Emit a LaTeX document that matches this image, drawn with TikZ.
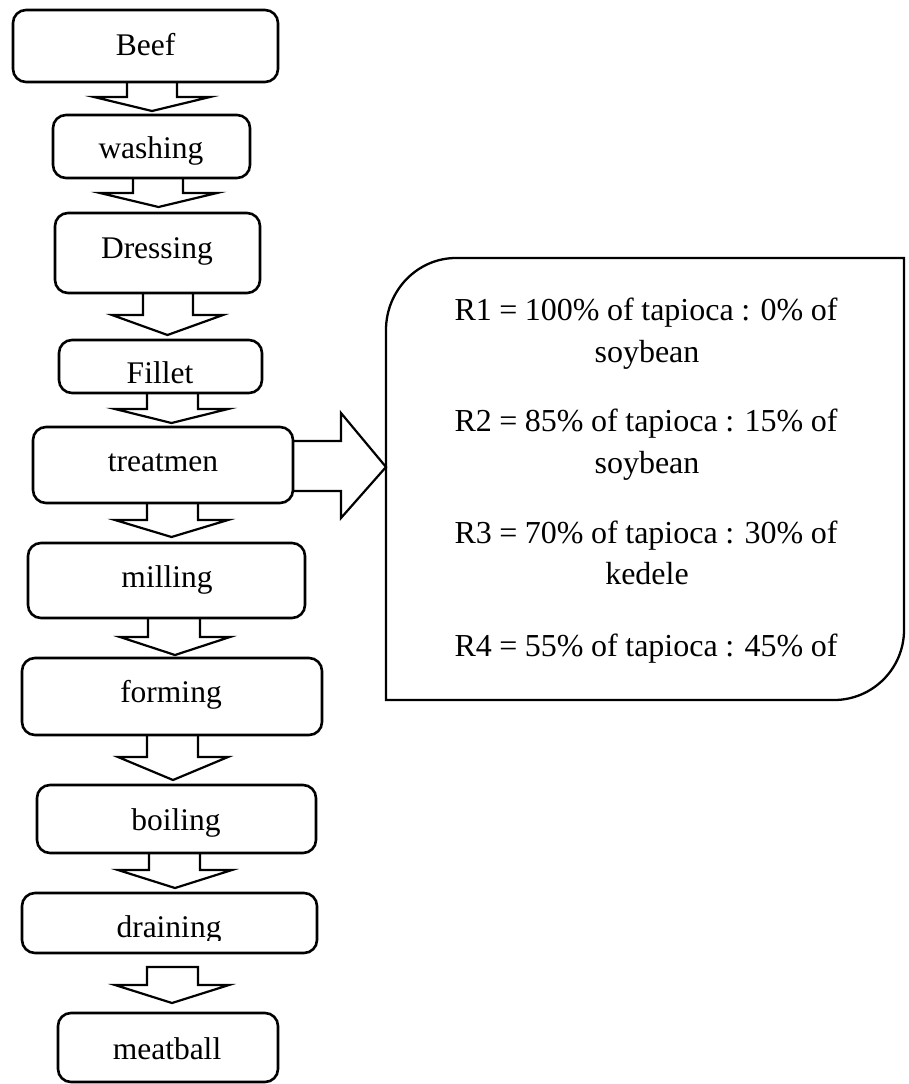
\documentclass[tikz,border=0pt]{standalone}
\usepackage{fontspec}
\setmainfont{Liberation Serif}
\begin{document}
\begin{tikzpicture}[x=1pt,y=-1pt,
  box/.style={draw, line width=2.6pt, rounded corners=13pt, inner sep=0pt, outer sep=0pt},
  lbl/.style={anchor=base, inner sep=0pt, outer sep=0pt, font=\fontsize{31.5}{38}\selectfont},
  rline/.style={anchor=base, inner sep=0pt, outer sep=0pt, font=\fontsize{32}{38}\selectfont},
  barrow/.style={draw, line width=2.2pt, line join=miter}]
\useasboundingbox (0,0) rectangle (908,1084);

% process boxes
\node[box, minimum width=265pt, minimum height=72pt] (beef) at (145.5,46) {};
\node[box, minimum width=197pt, minimum height=63pt] (washing) at (151.5,146.5) {};
\node[box, minimum width=205pt, minimum height=80pt] (dressing) at (157.5,253) {};
\node[box, minimum width=203pt, minimum height=53pt] (fillet) at (160.5,366.5) {};
\node[box, minimum width=260pt, minimum height=76pt] (treat) at (163,465) {};
\node[box, minimum width=277pt, minimum height=75pt] (milling) at (166.5,580.5) {};
\node[box, minimum width=300pt, minimum height=77pt] (forming) at (172,696.5) {};
\node[box, minimum width=279pt, minimum height=68pt] (boiling) at (176.5,819) {};
\node[box, minimum width=295pt, minimum height=60pt] (draining) at (169.5,923) {};
\node[box, minimum width=220pt, minimum height=69pt] (meatball) at (168,1047.5) {};

% labels
\node[lbl] (beeft) at (145.5,55) {Beef};
\node[lbl] (washingt) at (151,158) {washing};
\node[lbl] (dressingt) at (157,258) {Dressing};
\node[lbl] (fillett) at (160,383) {Fillet};
\node[lbl] (treatt) at (163,471) {treatmen};
\node[lbl] (millingt) at (167,587) {milling};
\node[lbl] (formingt) at (171,702) {forming};
\node[lbl] (boilingt) at (176,830) {boiling};
\begin{scope}
\clip (0,0) rectangle (908,940);
\node[lbl] (drainingt) at (169,937) {draining};
\end{scope}
\node[lbl] (meatballt) at (167,1059) {meatball};

% block arrows down
\draw[barrow] (beef.south -| 127,0) -- (127,97) -- (94,97) -- (152,111) -- (210,97) -- (177,97) -- (beef.south -| 177,0);
\draw[barrow] (washing.south -| 133,0) -- (133,193) -- (100,193) -- (158.5,207) -- (217,193) -- (183,193) -- (washing.south -| 183,0);
\draw[barrow] (dressing.south -| 143,0) -- (143,315) -- (112,315) -- (167.5,335) -- (223,315) -- (193,315) -- (dressing.south -| 193,0);
\draw[barrow] (fillet.south -| 147,0) -- (147,409) -- (115,409) -- (171.5,423) -- (228,409) -- (198,409) -- (fillet.south -| 198,0);
\draw[barrow] (treat.south -| 147,0) -- (147,520) -- (115,520) -- (171.5,537) -- (228,520) -- (198,520) -- (treat.south -| 198,0);
\draw[barrow] (milling.south -| 148,0) -- (148,637) -- (120,637) -- (175,655) -- (230,637) -- (200,637) -- (milling.south -| 200,0);
\draw[barrow] (forming.south -| 147,0) -- (147,757) -- (118,757) -- (173,780) -- (228,757) -- (198,757) -- (forming.south -| 198,0);
\draw[barrow] (boiling.south -| 149,0) -- (149,870) -- (118,870) -- (175,888) -- (232,870) -- (200,870) -- (boiling.south -| 200,0);
\draw[barrow] (147,967) -- (147,985) -- (115,985) -- (172,1003) -- (229,985) -- (198,985) -- (198,967) -- cycle;

% callout
\coordinate (mixin) at (386,467);
\draw[line width=2.3pt] (386,700) -- (386,330) .. controls (386,290.4) and (417.4,258) .. (456,258) -- (904,258) -- (904,630) .. controls (904,668.6) and (872.6,700) .. (834,700) -- cycle;

% arrow to callout
\draw[barrow] (treat.east |- 0,441) -- (341,441) -- (341,413) -- (mixin) -- (341,518) -- (341,491) -- (treat.east |- 0,491);

% callout text
\node[rline] (r1) at (646,320) {\makebox[383pt][s]{R1 = 100\% of tapioca : 0\% of}};
\node[rline] (r1b) at (647,362) {soybean};
\node[rline] (r2) at (646,431) {\makebox[383pt][s]{R2 = 85\% of tapioca : 15\% of}};
\node[rline] (r2b) at (647,473) {soybean};
\node[rline] (r3) at (646,543) {\makebox[383pt][s]{R3 = 70\% of tapioca : 30\% of}};
\node[rline] (r3b) at (647,584) {kedele};
\node[rline] (r4) at (646,656) {\makebox[383pt][s]{R4 = 55\% of tapioca : 45\% of}};
\end{tikzpicture}
\end{document}
